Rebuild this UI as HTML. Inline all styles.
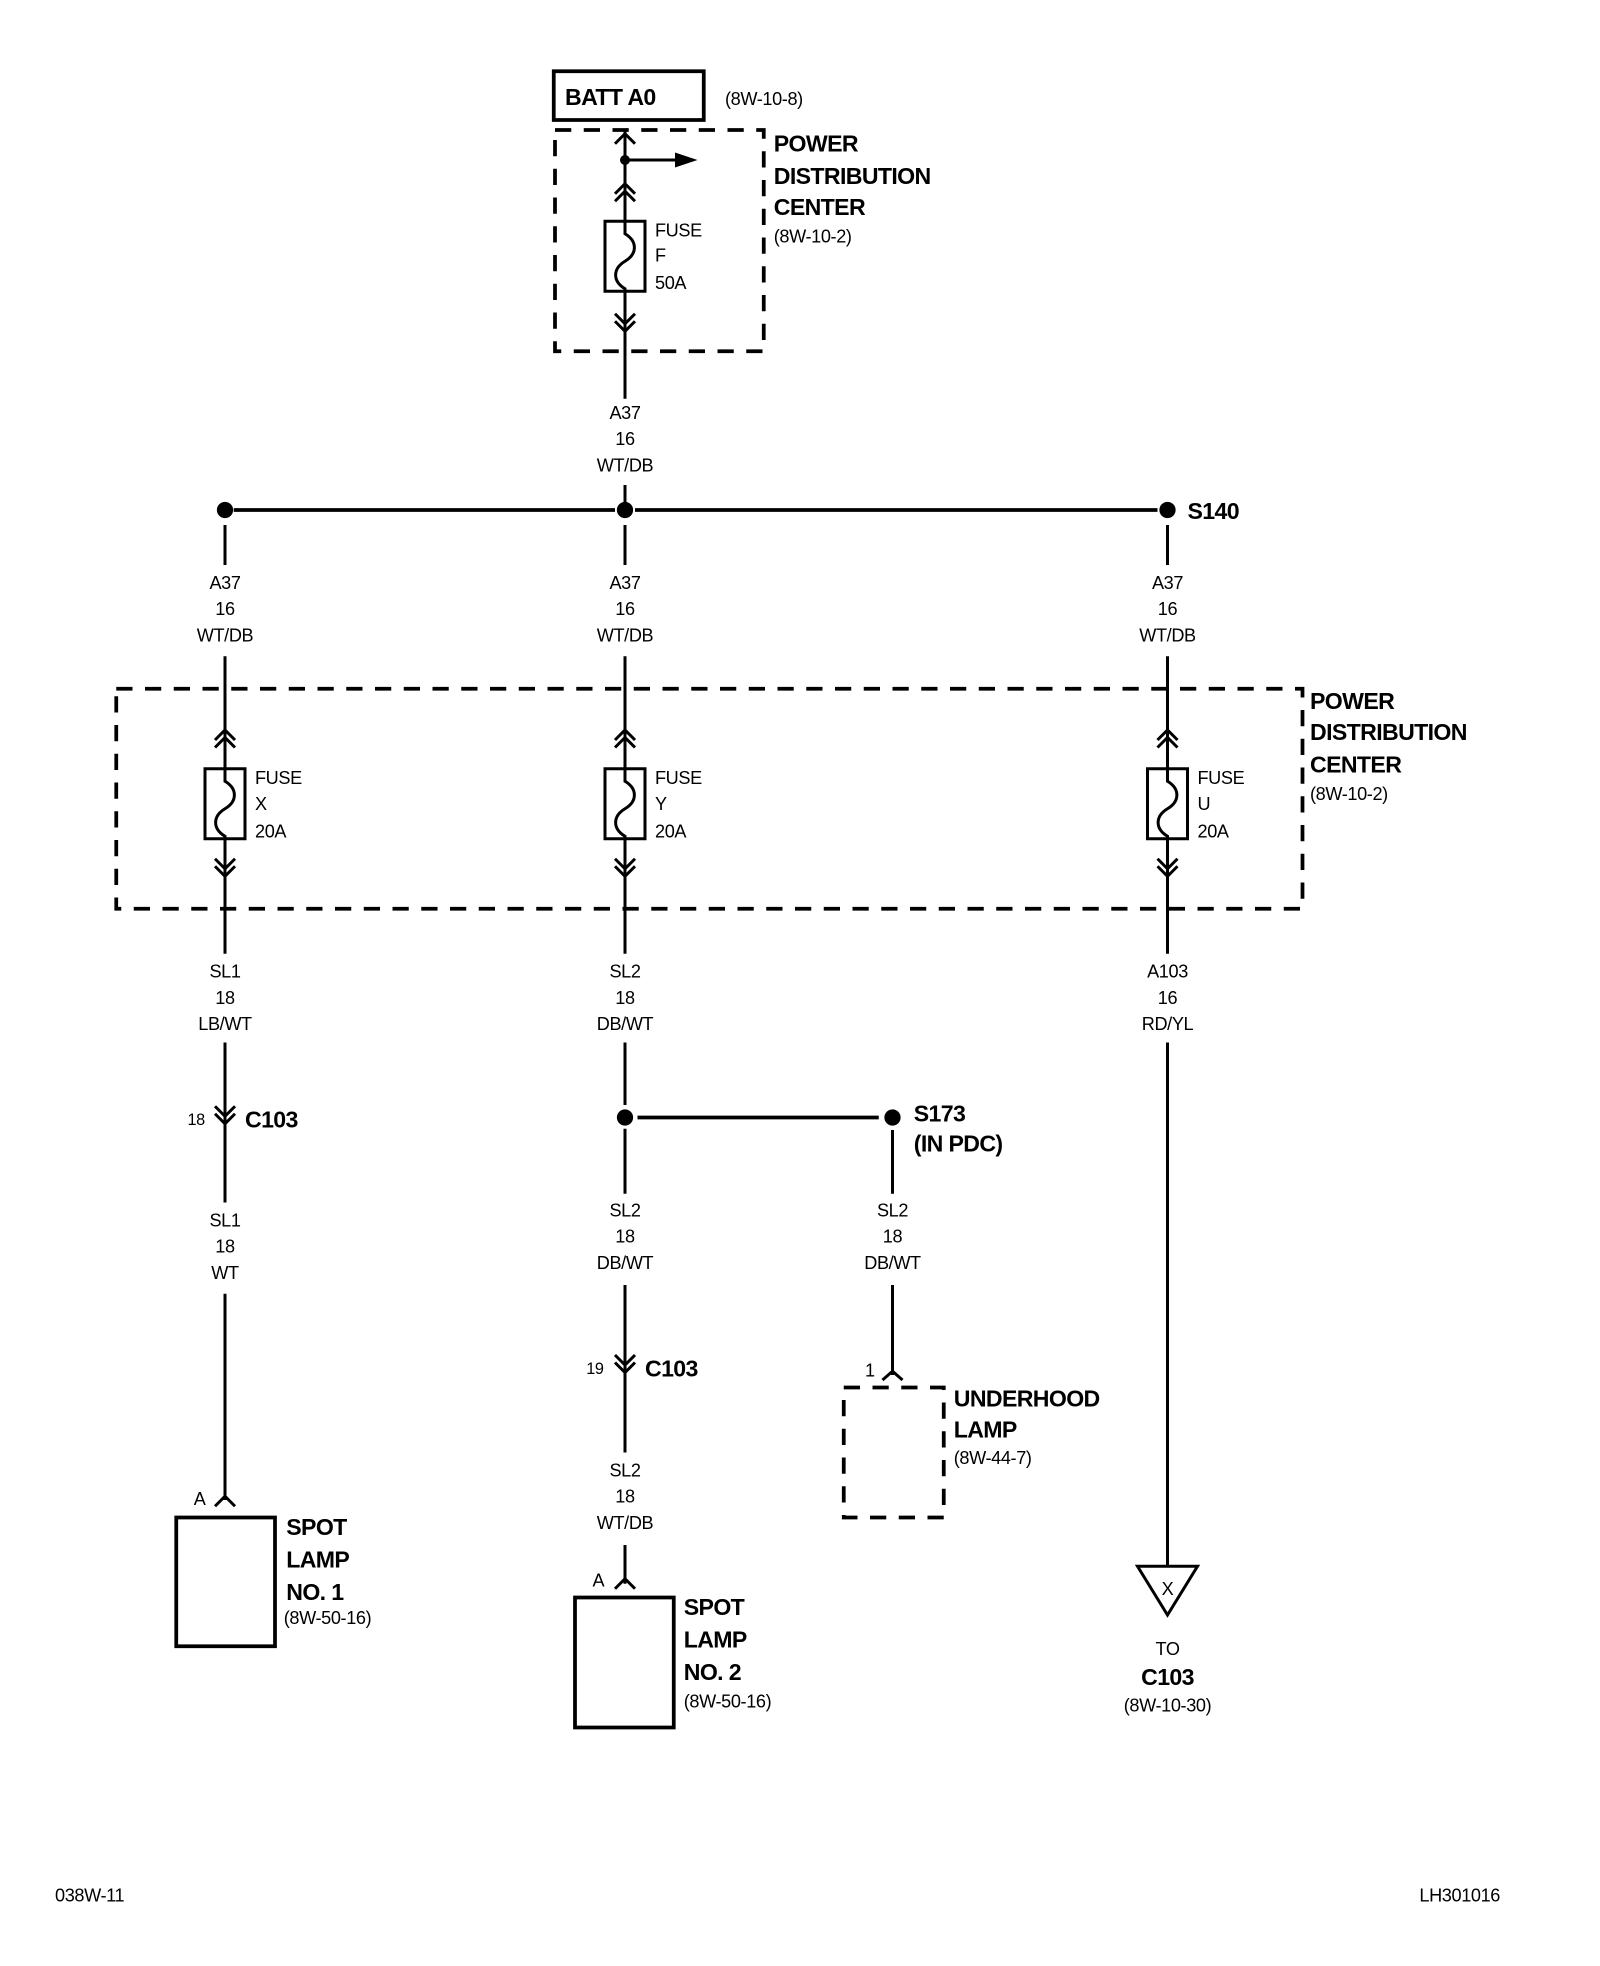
<!DOCTYPE html>
<html><head><meta charset="utf-8"><style>
html,body{margin:0;padding:0;background:#fff;}
svg{display:block;}
text{font-family:"Liberation Sans Narrow","Liberation Sans",sans-serif;fill:#000;}
.b{font-weight:bold;font-size:18.5px;letter-spacing:-0.5px;}
.s{font-size:14.5px;letter-spacing:-0.3px;}
.m{font-size:14.5px;text-anchor:middle;letter-spacing:-0.3px;}
</style></head><body>
<svg width="1600" height="1966" viewBox="0 0 1280 1572.8" xmlns="http://www.w3.org/2000/svg">
<g fill="none" stroke="#000" stroke-width="2.4">
<rect x="443" y="57" width="120" height="39" stroke-width="3"/>
<rect x="444" y="104" width="167" height="177" stroke-width="3" stroke-dasharray="13,10"/>
<line x1="500" y1="105" x2="500" y2="177"/>
<line x1="500" y1="233" x2="500" y2="319"/>
<polyline points="492,115 500,107 508,115"/>
<line x1="500" y1="128" x2="540" y2="128"/>
<polyline points="492,155 500,147 508,155"/><polyline points="492,161 500,153 508,161"/>
<rect x="484" y="177" width="32" height="56"/>
<path d="M500,177 v10 c10,6 10,16 0,22 c-10,6 -10,16 0,22 v2"/>
<polyline points="492,251 500,259 508,251"/><polyline points="492,257 500,265 508,257"/>
<line x1="187" y1="408" x2="492" y2="408" stroke-width="3"/>
<line x1="508" y1="408" x2="926" y2="408" stroke-width="3"/>
<line x1="500" y1="388" x2="500" y2="408"/>
<line x1="180" y1="420" x2="180" y2="452"/>
<line x1="500" y1="420" x2="500" y2="452"/>
<line x1="934" y1="420" x2="934" y2="452"/>
<rect x="93" y="551" width="949" height="176" stroke-width="3" stroke-dasharray="13,10"/>
<line x1="180" y1="525" x2="180" y2="615"/><line x1="180" y1="671" x2="180" y2="763"/>
<line x1="500" y1="525" x2="500" y2="615"/><line x1="500" y1="671" x2="500" y2="763"/>
<line x1="934" y1="525" x2="934" y2="615"/><line x1="934" y1="671" x2="934" y2="763"/>
<polyline points="172,592 180,584 188,592"/><polyline points="172,598 180,590 188,598"/>
<polyline points="492,592 500,584 508,592"/><polyline points="492,598 500,590 508,598"/>
<polyline points="926,592 934,584 942,592"/><polyline points="926,598 934,590 942,598"/>
<rect x="164" y="615" width="32" height="56"/><path d="M180,615 v10 c10,6 10,16 0,22 c-10,6 -10,16 0,22 v2"/>
<rect x="484" y="615" width="32" height="56"/><path d="M500,615 v10 c10,6 10,16 0,22 c-10,6 -10,16 0,22 v2"/>
<rect x="918" y="615" width="32" height="56"/><path d="M934,615 v10 c10,6 10,16 0,22 c-10,6 -10,16 0,22 v2"/>
<polyline points="172,687 180,695 188,687"/><polyline points="172,693 180,701 188,693"/>
<polyline points="492,687 500,695 508,687"/><polyline points="492,693 500,701 508,693"/>
<polyline points="926,687 934,695 942,687"/><polyline points="926,693 934,701 942,693"/>
<line x1="180" y1="834" x2="180" y2="962"/>
<polyline points="172,885 180,893 188,885"/><polyline points="172,891 180,899 188,891"/>
<line x1="180" y1="1035" x2="180" y2="1200"/>
<polyline points="172,1205 180,1197 188,1205"/>
<rect x="141" y="1214" width="79" height="103" stroke-width="3"/>
<line x1="500" y1="834" x2="500" y2="884"/>
<line x1="500" y1="903" x2="500" y2="955"/>
<line x1="510" y1="894" x2="703" y2="894" stroke-width="3"/>
<line x1="500" y1="1028" x2="500" y2="1162"/>
<polyline points="492,1084 500,1092 508,1084"/><polyline points="492,1090 500,1098 508,1090"/>
<line x1="500" y1="1236" x2="500" y2="1267"/>
<polyline points="492,1271 500,1263 508,1271"/>
<rect x="460" y="1278" width="79" height="104" stroke-width="3"/>
<line x1="714" y1="904" x2="714" y2="955"/>
<line x1="714" y1="1028" x2="714" y2="1100"/>
<polyline points="706,1104 714,1097 722,1104"/>
<rect x="675" y="1110" width="80" height="104" stroke-width="3" stroke-dasharray="13,10"/>
<line x1="934" y1="834" x2="934" y2="1253"/>
<polygon points="910,1253 958,1253 934,1292"/>
</g>
<g fill="#000">
<circle cx="500" cy="128" r="4"/>
<polygon points="540,122 558,128 540,134"/>
<circle cx="180" cy="408" r="6.5"/><circle cx="500" cy="408" r="6.5"/><circle cx="934" cy="408" r="6.5"/>
<circle cx="500" cy="894" r="6.5"/><circle cx="714" cy="894" r="6.5"/>
</g>
<text class="b" x="452" y="84">BATT A0</text>
<text class="s" x="580" y="84">(8W-10-8)</text>
<text class="b" x="619" y="121">POWER</text>
<text class="b" x="619" y="147">DISTRIBUTION</text>
<text class="b" x="619" y="172">CENTER</text>
<text class="s" x="619" y="194">(8W-10-2)</text>
<text class="s" x="524" y="189">FUSE</text><text class="s" x="524" y="209">F</text><text class="s" x="524" y="231">50A</text>
<text class="m" x="500" y="335">A37</text><text class="m" x="500" y="356">16</text><text class="m" x="500" y="377">WT/DB</text>
<text class="b" x="950" y="415">S140</text>
<text class="m" x="180" y="471">A37</text><text class="m" x="180" y="492">16</text><text class="m" x="180" y="513">WT/DB</text>
<text class="m" x="500" y="471">A37</text><text class="m" x="500" y="492">16</text><text class="m" x="500" y="513">WT/DB</text>
<text class="m" x="934" y="471">A37</text><text class="m" x="934" y="492">16</text><text class="m" x="934" y="513">WT/DB</text>
<text class="b" x="1048" y="567">POWER</text>
<text class="b" x="1048" y="592">DISTRIBUTION</text>
<text class="b" x="1048" y="618">CENTER</text>
<text class="s" x="1048" y="640">(8W-10-2)</text>
<text class="s" x="204" y="627">FUSE</text><text class="s" x="204" y="648">X</text><text class="s" x="204" y="670">20A</text>
<text class="s" x="524" y="627">FUSE</text><text class="s" x="524" y="648">Y</text><text class="s" x="524" y="670">20A</text>
<text class="s" x="958" y="627">FUSE</text><text class="s" x="958" y="648">U</text><text class="s" x="958" y="670">20A</text>
<text class="m" x="180" y="782">SL1</text><text class="m" x="180" y="803">18</text><text class="m" x="180" y="824">LB/WT</text>
<text class="m" x="500" y="782">SL2</text><text class="m" x="500" y="803">18</text><text class="m" x="500" y="824">DB/WT</text>
<text class="m" x="934" y="782">A103</text><text class="m" x="934" y="803">16</text><text class="m" x="934" y="824">RD/YL</text>
<text class="s" x="150" y="900" style="font-size:13px">18</text>
<text class="b" x="196" y="902">C103</text>
<text class="m" x="180" y="981">SL1</text><text class="m" x="180" y="1002">18</text><text class="m" x="180" y="1023">WT</text>
<text class="s" x="155" y="1204">A</text>
<text class="b" x="229" y="1228">SPOT</text><text class="b" x="229" y="1254">LAMP</text><text class="b" x="229" y="1280">NO. 1</text>
<text class="s" x="227" y="1299">(8W-50-16)</text>
<text class="b" x="731" y="897">S173</text>
<text class="b" x="731" y="921">(IN PDC)</text>
<text class="m" x="500" y="973">SL2</text><text class="m" x="500" y="994">18</text><text class="m" x="500" y="1015">DB/WT</text>
<text class="m" x="714" y="973">SL2</text><text class="m" x="714" y="994">18</text><text class="m" x="714" y="1015">DB/WT</text>
<text class="s" x="469" y="1099" style="font-size:13px">19</text>
<text class="b" x="516" y="1101">C103</text>
<text class="m" x="500" y="1181">SL2</text><text class="m" x="500" y="1202">18</text><text class="m" x="500" y="1223">WT/DB</text>
<text class="s" x="474" y="1269">A</text>
<text class="b" x="547" y="1292">SPOT</text><text class="b" x="547" y="1318">LAMP</text><text class="b" x="547" y="1344">NO. 2</text>
<text class="s" x="547" y="1366">(8W-50-16)</text>
<text class="s" x="692" y="1101">1</text>
<text class="b" x="763" y="1125">UNDERHOOD</text><text class="b" x="763" y="1150">LAMP</text>
<text class="s" x="763" y="1171">(8W-44-7)</text>
<text class="m" x="934" y="1276">X</text>
<text class="m" x="934" y="1324">TO</text>
<text class="b" x="934" y="1348" text-anchor="middle">C103</text>
<text class="m" x="934" y="1369">(8W-10-30)</text>
<text class="s" x="44" y="1521">038W-11</text>
<text class="s" x="1200" y="1521" text-anchor="end">LH301016</text>
</svg>
</body></html>
